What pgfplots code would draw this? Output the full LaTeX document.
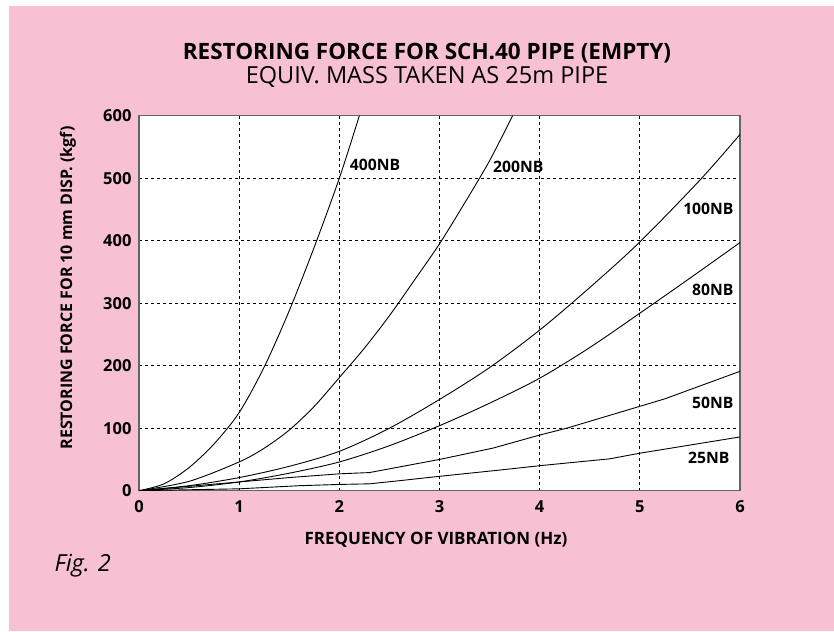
\documentclass[border=0pt]{standalone}
\usepackage{pgfplots}
\pgfplotsset{compat=1.18}
\usepackage{fontspec}
\setmainfont{Open Sans}
\definecolor{bgpink}{RGB}{247,192,211}
\definecolor{axgray}{RGB}{100,100,100}
\begin{document}
\begin{tikzpicture}[x=1pt,y=1pt]
\fill[white] (0,0) rectangle (834,631);
\fill[bgpink] (9,0) rectangle (834,625);
\node[anchor=base,font=\fontsize{22.5}{22.5}\selectfont\bfseries] at (427,571.7) {RESTORING FORCE FOR SCH.40 PIPE (EMPTY)};
\node[anchor=base,font=\fontsize{23.5}{23.5}\selectfont] at (427,547.5) {EQUIV. MASS TAKEN AS 25m PIPE};
\begin{axis}[
  at={(139pt,140.3pt)}, anchor=south west,
  scale only axis, width=601pt, height=375pt,
  xmin=0, xmax=6, ymin=0, ymax=600,
  xtick={0,1,2,3,4,5,6}, ytick={0,100,200,300,400,500,600},
  axis background/.style={fill=white},
  axis line style={draw=axgray, line width=1.5pt},
  major tick length=0pt,
  grid=major,
  major grid style={black, line width=0.8pt, dash pattern=on 3pt off 3pt},
  /pgf/number format/assume math mode=true,
  ticklabel style={font=\fontsize{16.5}{16.5}\selectfont\bfseries},
  xticklabel style={yshift=-6pt},
  yticklabel style={xshift=-4pt},
  clip=true,
]
\addplot[black, line width=0.9pt, smooth, tension=0.5] coordinates {
(0,0)(0.25,11)(0.5,37)(0.75,75)(1,125)(1.25,198)(1.5,288)(1.75,390)(2.0,500)(2.2,600)};
\addplot[black, line width=0.9pt, smooth, tension=0.5] coordinates {
(0,0)(0.5,15)(1,46)(1.25,68)(1.5,97)(1.75,135)(2,181)(2.25,228)(2.5,280)(2.75,337)(3,395)(3.25,460)(3.5,528)(3.73,600)};
\addplot[black, line width=0.9pt, smooth, tension=0.5] coordinates {
(0,0)(0.5,8)(1,21)(1.5,39)(2,63)(2.5,100)(3,146)(3.5,197)(4,257)(4.5,325)(5,398)(5.6,497)(6,570)};
\addplot[black, line width=0.9pt, smooth, tension=0.5] coordinates {
(0,0)(0.5,5)(1,14)(1.5,28)(2,46)(2.5,72)(3,104)(3.5,140)(4,180)(4.5,229)(5,284)(5.5,340)(6,397)};
\addplot[black, line width=0.9pt] coordinates {
(0,0)(0.5,7)(1,14)(1.5,21)(2,27)(2.3,29)(2.6,38)(3,50)(3.53,68)(4,89)(4.27,100)(5,135)(5.25,147)(6,191)};
\addplot[black, line width=0.9pt] coordinates {
(0,0)(1,3)(1.6,8)(2,10)(2.3,11)(2.6,16)(3,23)(3.6,33)(4,40)(4.7,51)(5,60)(6,86)};
\node[anchor=west, font=\fontsize{15.7}{15.7}\selectfont\bfseries] at (axis cs:2.07,522) {400NB};
\node[anchor=west, font=\fontsize{15.7}{15.7}\selectfont\bfseries] at (axis cs:3.50,518) {200NB};
\node[anchor=east, font=\fontsize{15.7}{15.7}\selectfont\bfseries] at (axis cs:5.97,451) {100NB};
\node[anchor=east, font=\fontsize{15.7}{15.7}\selectfont\bfseries] at (axis cs:5.97,321) {80NB};
\node[anchor=east, font=\fontsize{15.7}{15.7}\selectfont\bfseries] at (axis cs:5.97,140) {50NB};
\node[anchor=east, font=\fontsize{15.7}{15.7}\selectfont\bfseries] at (axis cs:5.93,53) {25NB};
\end{axis}
\node[font=\fontsize{17}{17}\selectfont\bfseries] at (436,91) {FREQUENCY OF VIBRATION (Hz)};
\node[rotate=90, font=\fontsize{16}{16}\selectfont\bfseries] at (68,343) {RESTORING FORCE FOR 10 mm DISP. (kgf)};
\node[anchor=base west, font=\fontsize{23.5}{23.5}\selectfont\itshape] at (51,59.3) {Fig. 2};
\end{tikzpicture}
\end{document}
